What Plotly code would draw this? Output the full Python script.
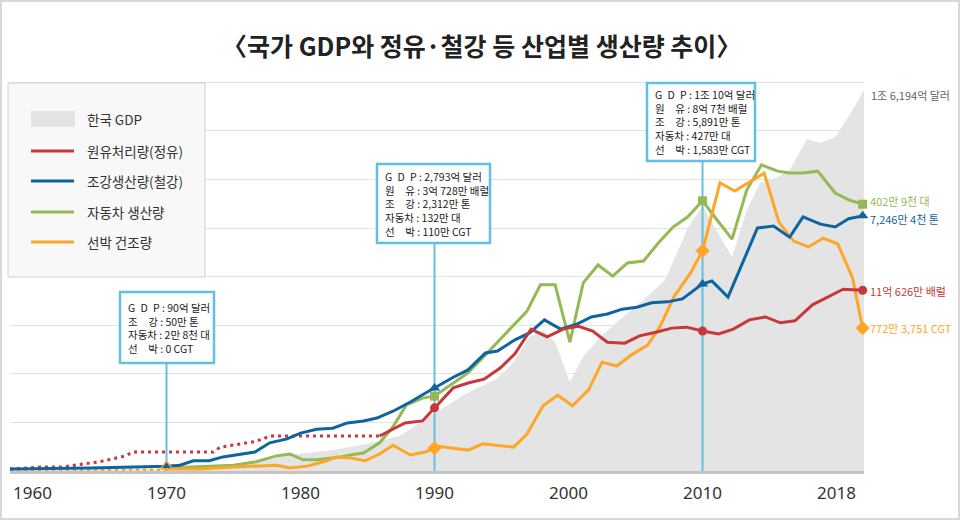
import plotly.graph_objects as go

# ---------------- data ----------------
# x = position on the time axis (years), y = height in chart units (grid step = 1)
gdp_x = [1958.32, 1970, 1975.0, 1977.0, 1979.2, 1982.4, 1985.0, 1987.4, 1990, 1992.4, 1994.7,
         1995.9, 1997.1, 1998.1, 1999.0, 2000.1, 2001.1, 2002.4, 2003.8, 2005.6, 2007.2, 2008.9,
         2010, 2012.2, 2013.3, 2014.3, 2015.6, 2016.5, 2017.8, 2018.8, 2019.9, 2021.2, 2022.05]
gdp_y = [0.02, 0.04, 0.10, 0.19, 0.33, 0.43, 0.56, 0.72, 1.19, 1.60, 1.91,
         2.24, 2.76, 2.90, 2.65, 1.83, 2.35, 2.76, 3.11, 3.52, 3.93, 5.00,
         5.45, 4.40, 5.37, 5.93, 6.05, 6.19, 6.83, 6.75, 6.87, 7.43, 7.84]

oil_est_x = [1958.32, 1960.6, 1962.1, 1963.3, 1965.0, 1966.0, 1966.9, 1967.5, 1973.5, 1974.0,
             1975.0, 1976.5, 1977.2, 1977.7, 1985.9]
oil_est_y = [0.04, 0.08, 0.08, 0.12, 0.19, 0.25, 0.31, 0.39, 0.39, 0.49,
             0.53, 0.60, 0.66, 0.72, 0.72]
oil_x = [1985.9, 1986.9, 1987.8, 1989.1, 1990, 1991.4, 1992.5, 1993.7, 1994.9, 1996.0,
         1997.2, 1998.4, 1999.6, 2000.7, 2001.8, 2002.9, 2004.2, 2005.3, 2006.6, 2007.7,
         2008.8, 2010, 2011.2, 2012.3, 2013.5, 2014.7, 2015.8, 2016.9, 2018.2, 2019.3,
         2020.5, 2021.95]
oil_y = [0.72, 0.86, 0.99, 1.03, 1.30, 1.71, 1.81, 1.89, 2.12, 2.41,
         2.92, 2.76, 2.92, 2.98, 2.88, 2.65, 2.63, 2.78, 2.86, 2.94,
         2.96, 2.88, 2.82, 2.92, 3.11, 3.17, 3.05, 3.09, 3.42, 3.58,
         3.74, 3.72]

steel_x = [1958.32, 1964.3, 1970, 1971.0, 1972.0, 1973.2, 1974.2, 1975.5, 1976.6, 1977.7,
           1979.0, 1980.0, 1981.2, 1982.4, 1983.5, 1984.7, 1985.7, 1986.9, 1988.2, 1989.3,
           1990, 1991.4, 1992.5, 1993.8, 1994.7, 1996.0, 1997.1, 1998.2, 1999.4, 2000.6,
           2001.7, 2002.9, 2004.0, 2005.1, 2006.2, 2007.4, 2008.5, 2010, 2010.7, 2011.9,
           2014.1, 2015.3, 2016.5, 2017.5, 2018.8, 2019.9, 2020.9, 2021.95]
steel_y = [0.04, 0.06, 0.10, 0.12, 0.21, 0.21, 0.29, 0.35, 0.39, 0.58,
           0.66, 0.78, 0.86, 0.88, 0.99, 1.03, 1.09, 1.23, 1.42, 1.60,
           1.71, 1.93, 2.08, 2.43, 2.47, 2.70, 2.84, 3.11, 2.92, 3.02,
           3.17, 3.23, 3.33, 3.37, 3.46, 3.48, 3.54, 3.85, 3.91, 3.58,
           5.00, 5.04, 4.81, 5.23, 5.08, 5.02, 5.19, 5.25]

car_x = [1970, 1975.0, 1976.7, 1978.2, 1979.2, 1980.2, 1981.2, 1983.0, 1983.7, 1984.7,
         1985.9, 1986.9, 1987.9, 1989.1, 1990, 1991.4, 1992.5, 1993.6, 1994.7, 1995.9,
         1996.9, 1997.9, 1999.0, 2000.1, 2001.1, 2002.2, 2003.3, 2004.4, 2005.6, 2006.7,
         2007.8, 2008.9, 2010, 2011.1, 2012.2, 2013.3, 2014.4, 2015.6, 2016.5, 2017.5,
         2018.6, 2019.9, 2020.9, 2021.95]
car_y = [0.06, 0.12, 0.19, 0.31, 0.35, 0.23, 0.23, 0.29, 0.33, 0.37,
         0.58, 0.91, 1.36, 1.50, 1.54, 1.81, 2.02, 2.33, 2.65, 2.98,
         3.29, 3.83, 3.83, 2.65, 3.87, 4.24, 4.01, 4.28, 4.32, 4.69,
         5.02, 5.23, 5.56, 5.16, 4.77, 5.78, 6.30, 6.17, 6.13, 6.13,
         6.17, 5.72, 5.58, 5.49]

ship_est_x = [1958.32, 1970]
ship_est_y = [0.02, 0.02]
ship_x = [1970, 1972.5, 1975.0, 1977.0, 1978.2, 1979.2, 1980.5, 1981.7, 1982.7, 1983.7,
          1984.8, 1985.9, 1986.9, 1988.2, 1989.3, 1990, 1990.3, 1991.4, 1992.5, 1993.6,
          1994.7, 1995.9, 1996.9, 1998.1, 1999.2, 2000.3, 2001.5, 2002.5, 2003.6, 2004.7,
          2005.9, 2006.8, 2007.9, 2009.1, 2010, 2011.3, 2012.4, 2014.6, 2015.7, 2016.8,
          2017.9, 2019.0, 2020.1, 2021.2, 2021.95]
ship_y = [0.04, 0.04, 0.08, 0.10, 0.12, 0.06, 0.10, 0.19, 0.29, 0.27,
          0.21, 0.35, 0.53, 0.33, 0.39, 0.47, 0.51, 0.47, 0.43, 0.56,
          0.53, 0.49, 0.76, 1.34, 1.56, 1.34, 1.67, 2.24, 2.16, 2.39,
          2.59, 2.96, 3.60, 4.07, 4.53, 5.93, 5.76, 6.13, 5.12, 4.73,
          4.61, 4.79, 4.67, 3.97, 2.94]

tick_years = [1960, 1970, 1980, 1990, 2000, 2010, 2020]
tick_labels = ["1960", "1970", "1980", "1990", "2000", "2010", "2018"]

legend_names = ["한국 GDP", "원유처리량(정유)", "조강생산량(철강)", "자동차 생산량", "선박 건조량"]

end_labels = {
    "gdp": "1조 6,194억 달러",
    "car": "402만 9천 대",
    "steel": "7,246만 4천 톤",
    "oil": "11억 626만 배럴",
    "ship": "772만 3,751 CGT",
}

box_1970 = ["G\u2002D\u2002P : 90억 달러", "조\u3000강 : 50만 톤",
            "자동차 : 2만 8천 대", "선\u3000박 : 0 CGT"]
box_1990 = ["G\u2002D\u2002P : 2,793억 달러", "원\u3000유 : 3억 728만 배럴",
            "조\u3000강 : 2,312만 톤", "자동차 : 132만 대", "선\u3000박 : 110만 CGT"]
box_2010 = ["G\u2002D\u2002P : 1조 10억 달러", "원\u3000유 : 8억 7천 배럴",
            "조\u3000강 : 5,891만 톤", "자동차 : 427만 대", "선\u3000박 : 1,583만 CGT"]

# ---------------- styling ----------------
C_GDP = "#e4e4e4"
C_OIL = "#c8373a"
C_STEEL = "#0d64a0"
C_CAR = "#93ba54"
C_SHIP = "#fda628"
C_BOX = "#62c0e4"
KFONT = "Noto Sans CJK KR"

W, H = 960, 520
ML, MR, MT, MB = 10, 96, 60, 49
PW, PH = W - ML - MR, H - MT - MB
GRID = 48.6
Y1 = PH / GRID


def px(p):
    return (p - ML) / PW


def py(p):
    return (H - MB - p) / PH


def yunits(p):
    return (H - MB - p) / GRID


fig = go.Figure()

fig.add_trace(go.Scatter(x=gdp_x, y=gdp_y, mode="lines", fill="tozeroy",
                         fillcolor=C_GDP, line=dict(width=0, color=C_GDP),
                         hoverinfo="skip", showlegend=False))

# milestone boxes (pixel layout) : year, x0, x1, y0, y1, lines, first text line centre
boxes = [
    (1970, 120, 214, 292, 363, box_1970, 306),
    (1990, 377, 490, 164, 243, box_1990, 175),
    (2010, 647, 755, 83, 161, box_2010, 93),
]
for yr, bx0, bx1, by0, by1, lines, first in boxes:
    fig.add_trace(go.Scatter(x=[yr, yr], y=[0, yunits(by1)], mode="lines",
                             line=dict(color=C_BOX, width=2), hoverinfo="skip",
                             showlegend=False))

dot = "3px,4px"
fig.add_trace(go.Scatter(x=ship_est_x, y=ship_est_y, mode="lines",
                         line=dict(color=C_SHIP, width=3, dash=dot), showlegend=False))
fig.add_trace(go.Scatter(x=oil_est_x, y=oil_est_y, mode="lines",
                         line=dict(color=C_OIL, width=3, dash=dot), showlegend=False))

series = [
    (car_x, car_y, C_CAR, "square", 9),
    (ship_x, ship_y, C_SHIP, "diamond", 11),
    (steel_x, steel_y, C_STEEL, "triangle-up", 10),
    (oil_x, oil_y, C_OIL, "circle", 9),
]
for xs, ys, col, sym, sz in series:
    fig.add_trace(go.Scatter(x=xs, y=ys, mode="lines", cliponaxis=False,
                             line=dict(color=col, width=3), showlegend=False))

# markers at the milestone years and at the end of each line
for xs, ys, col, sym, sz in series:
    mx, my = [], []
    for i, xv in enumerate(xs):
        if xv in (1990, 2010) or i == len(xs) - 1:
            mx.append(xv)
            my.append(ys[i])
    fig.add_trace(go.Scatter(x=mx, y=my, mode="markers", cliponaxis=False,
                             marker=dict(symbol=sym, size=sz, color=col, line=dict(width=0)),
                             showlegend=False))
# 1970 marker (steel triangle with ship outline)
i70 = steel_x.index(1970)
fig.add_trace(go.Scatter(x=[steel_x[i70]], y=[steel_y[i70]], mode="markers", cliponaxis=False,
                         marker=dict(symbol="triangle-up", size=10, color=C_STEEL,
                                     line=dict(width=1.5, color=C_SHIP)),
                         showlegend=False))

shapes = []
annotations = []

# outer frame
shapes.append(dict(type="rect", xref="paper", yref="paper",
                   x0=px(1), x1=px(959), y0=py(519), y1=py(1),
                   line=dict(color="#d9d9d9", width=2), fillcolor="rgba(0,0,0,0)", layer="below"))

# boxes
for yr, bx0, bx1, by0, by1, lines, first in boxes:
    shapes.append(dict(type="rect", xref="paper", yref="paper",
                       x0=px(bx0), x1=px(bx1), y0=py(by1), y1=py(by0),
                       line=dict(color=C_BOX, width=2.5), fillcolor="white", layer="above"))
    annotations.append(dict(xref="paper", yref="paper", x=px(bx0 + 6), y=py(first - 8),
                            xanchor="left", yanchor="top", align="left", showarrow=False,
                            text="<br>".join(lines),
                            font=dict(family=KFONT, size=10.5, color="#222")))

# legend
shapes.append(dict(type="rect", xref="paper", yref="paper",
                   x0=px(8), x1=px(205), y0=py(277), y1=py(83),
                   line=dict(color="#cfcfcf", width=1), fillcolor="#f8f8f8", layer="above"))
shapes.append(dict(type="rect", xref="paper", yref="paper",
                   x0=px(31), x1=px(75), y0=py(127), y1=py(111),
                   line=dict(width=0), fillcolor=C_GDP, layer="above"))
leg_y = [119, 151, 181, 212, 242]
leg_cols = [None, C_OIL, C_STEEL, C_CAR, C_SHIP]
for name, yy, col in zip(legend_names, leg_y, leg_cols):
    if col:
        shapes.append(dict(type="line", xref="paper", yref="paper",
                           x0=px(31), x1=px(74), y0=py(yy), y1=py(yy),
                           line=dict(color=col, width=3), layer="above"))
    annotations.append(dict(xref="paper", yref="paper", x=px(85), y=py(yy),
                            xanchor="left", yanchor="middle", showarrow=False, text=name,
                            font=dict(family=KFONT, size=13.5, color="#333")))

# end labels
ends = [
    (gdp_x[-1], gdp_y[-1], end_labels["gdp"], "#666666", -5),
    (car_x[-1], car_y[-1], end_labels["car"], C_CAR, 3),
    (steel_x[-1], steel_y[-1], end_labels["steel"], C_STEEL, -3),
    (oil_x[-1], oil_y[-1], end_labels["oil"], C_OIL, -1),
    (ship_x[-1], ship_y[-1], end_labels["ship"], C_SHIP, 0),
]
for xv, yv, txt, col, ysh in ends:
    annotations.append(dict(x=xv, y=yv, xref="x", yref="y", xanchor="left", yanchor="middle",
                            xshift=5, yshift=ysh, showarrow=False, text=txt,
                            font=dict(family=KFONT, size=11, color=col)))

# title
annotations.append(dict(xref="paper", yref="paper", x=px(482), y=py(45),
                        xanchor="center", yanchor="middle", showarrow=False,
                        text="〈국가 GDP와 정유·철강 등 산업별 생산량 추이〉",
                        font=dict(family=KFONT, size=25, color="#222", weight="bold")))

fig.update_layout(
    width=W, height=H,
    margin=dict(l=ML, r=MR, t=MT, b=MB),
    paper_bgcolor="white", plot_bgcolor="white",
    shapes=shapes, annotations=annotations,
    showlegend=False, hovermode=False,
    xaxis=dict(range=[1958.32, 2022.05], showgrid=False, zeroline=False,
               showline=True, linecolor="#c4c4c4", linewidth=3,
               tickvals=tick_years, ticktext=tick_labels, ticks="",
               ticklabelstandoff=5,
               tickfont=dict(family="Noto Sans", size=17, color="#333")),
    yaxis=dict(range=[0, Y1], dtick=1, showgrid=True, gridcolor="#e3e3e3", gridwidth=1,
               zeroline=False, showticklabels=False, ticks=""),
)

fig.write_html("out.html")
